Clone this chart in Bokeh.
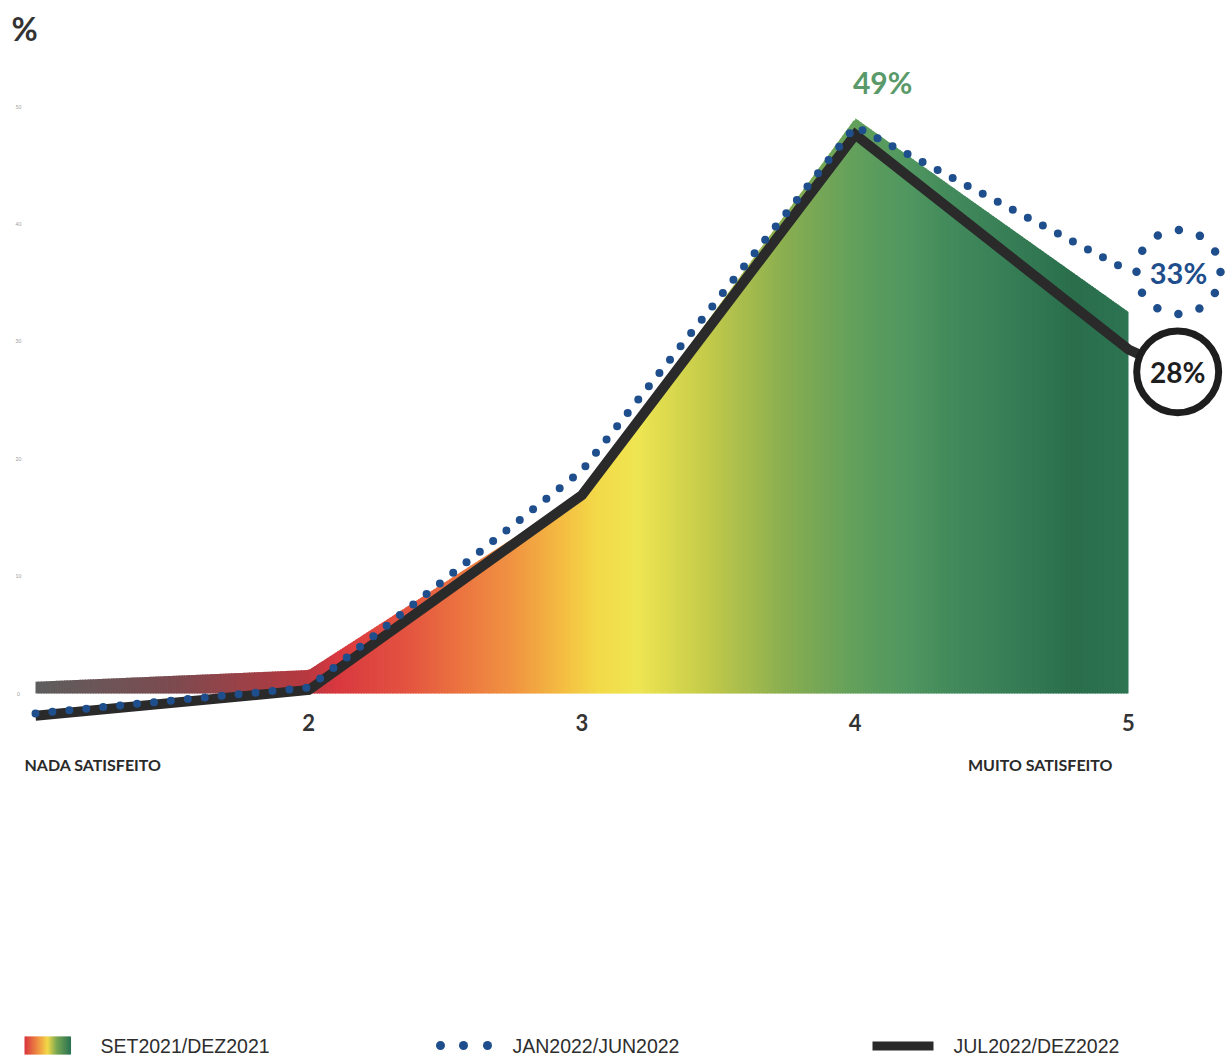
import numpy as np
from bokeh.plotting import figure
from bokeh.models import Range1d
from bokeh.core.properties import value
from bokeh.embed import file_html
from bokeh.resources import INLINE

# ---------------- data ----------------
categories = [1, 2, 3, 4, 5]
set2021_dez2021 = [1.0, 2.0, 17.0, 49.0, 32.5]
jan2022_jun2022 = [-1.7, 0.5, 19.0, 48.3, 36.0]
jul2022_dez2022 = [-1.9, 0.3, 16.9, 47.6, 29.3]

x_tick_values = [2, 3, 4, 5]
x_tick_labels = ["2", "3", "4", "5"]
y_tick_values = [0, 10, 20, 30, 40, 50]
y_tick_labels = ["0", "10", "20", "30", "40", "50"]
end_labels = ["NADA SATISFEITO", "MUITO SATISFEITO"]
peak_label = "49%"
jan_label = "33%"
jul_label = "28%"
series_names = ["SET2021/DEZ2021", "JAN2022/JUN2022", "JUL2022/DEZ2022"]

# ---------------- geometry / style ----------------
W, H = 1228, 1058
PX_X = 273.25   # pixels per category step
PX_Y = 11.74    # pixels per percentage point
X1 = 35         # px of category 1
Y0 = 693        # px of 0 %


def dx(px):
    return 1 + (px - X1) / PX_X


def dy(py):
    return (Y0 - py) / PX_Y


BLUE = "#1f4e8c"
BLACK = "#2a2a2a"
GREEN_TXT = "#5a9a6a"
TXT = "#2e2e2e"
FONT = "Lato"
LEG_FONT = "'Liberation Sans Narrow', 'Liberation Sans'"

p = figure(width=W, height=H,
           x_range=Range1d(dx(0), dx(W)), y_range=Range1d(dy(H), dy(0)),
           output_backend="svg", toolbar_location=None,
           x_axis_type=None, y_axis_type=None, min_border=0,
           outline_line_color=None, background_fill_color="white",
           border_fill_color="white")


def hex_to_rgb(h):
    h = h.lstrip("#")
    return np.array([int(h[i:i + 2], 16) for i in (0, 2, 4)], dtype=float)


def color_at(t, stops_t, stops_c):
    rgb = [np.interp(t, stops_t, [hex_to_rgb(c)[k] for c in stops_c]) for k in range(3)]
    return "#%02x%02x%02x" % tuple(int(round(v)) for v in rgb)


# ---------------- gradient area (SET2021/DEZ2021) ----------------
area_stops_x = [1.0, 1.5, 2.0, 2.1, 2.35, 2.55, 2.75, 2.92, 3.05, 3.2, 3.45,
                3.75, 4.0, 4.2, 4.35, 4.6, 4.8, 5.0]
area_stops_c = ["#5e5e5e", "#7c4b50", "#b8383f", "#d8383f", "#e35240", "#eb7340",
                "#f09442", "#f4bb42", "#f3d948", "#efe552", "#c5cb4a", "#88ad50",
                "#62a05c", "#4f9660", "#438a5c", "#357c55", "#2a6e4c", "#2d7452"]
N = 420
edges = np.linspace(categories[0], categories[-1], N + 1)
eps = 0.004
xs, ys, cols = [], [], []
for i in range(N):
    a = edges[i]
    b = min(edges[i + 1] + eps, categories[-1])
    ta = np.interp(a, categories, set2021_dez2021)
    tb = np.interp(b, categories, set2021_dez2021)
    xs.append([a, b, b, a])
    ys.append([0, 0, tb, ta])
    cols.append(color_at((a + edges[i + 1]) / 2, area_stops_x, area_stops_c))
p.patches(xs=xs, ys=ys, fill_color=cols, line_color=None)

# ---------------- label anchors ----------------
jan_c = (categories[4] + 0.183, jan2022_jun2022[4] - 0.1)
jul_c = (categories[4] + 0.18, jul2022_dez2022[4] - 1.9)

# ---------------- lines ----------------
p.line(categories + [jul_c[0]], jul2022_dez2022 + [jul_c[1]], line_width=10,
       line_color=BLACK, line_join="miter")
p.line(categories, jan2022_jun2022, line_width=8, line_color=BLUE,
       line_dash="0 17", line_cap="round")

# ---------------- value labels ----------------
p.text(x=[categories[3] + 0.1], y=[set2021_dez2021[3] + 3.1], text=[peak_label],
       text_font=value(FONT), text_font_style="bold", text_font_size="30px",
       text_color=GREEN_TXT, text_align="center", text_baseline="middle")

p.scatter(x=[jan_c[0]], y=[jan_c[1]], size=84, marker="circle", fill_color=None,
          line_color=BLUE, line_width=8.5, line_dash="0 22", line_cap="round")
p.text(x=[jan_c[0]], y=[jan_c[1]], text=[jan_label], text_font=value(FONT),
       text_font_style="bold", text_font_size="29px", text_color=BLUE,
       text_align="center", text_baseline="middle")

p.scatter(x=[jul_c[0]], y=[jul_c[1]], size=82, marker="circle", fill_color="white",
          line_color="#1e1e1e", line_width=7)
p.text(x=[jul_c[0]], y=[jul_c[1]], text=[jul_label], text_font=value(FONT),
       text_font_style="bold", text_font_size="28px", text_color="#1e1e1e",
       text_align="center", text_baseline="middle")

# ---------------- axes texts ----------------
p.text(x=x_tick_values, y=[dy(722)] * len(x_tick_values), text=x_tick_labels,
       text_font=value(FONT), text_font_style="bold", text_font_size="22px",
       text_color="#333333", text_align="center", text_baseline="middle")
p.text(x=[dx(18)] * len(y_tick_values), y=y_tick_values, text=y_tick_labels,
       text_font=value(FONT), text_font_size="5px", text_color="#9a9a9a",
       text_align="center", text_baseline="middle")
p.text(x=[dx(24), dx(1112)], y=[dy(764)] * 2, text=end_labels,
       text_font=value(FONT), text_font_style="bold", text_font_size="16px",
       text_color="#2a2a2a", text_align=["left", "right"], text_baseline="middle")
p.text(x=[dx(11)], y=[dy(28)], text=["%"], text_font=value(FONT),
       text_font_style="bold", text_font_size="32px", text_color="#333333",
       text_align="left", text_baseline="middle")

# ---------------- legend ----------------
LEG_Y = 1045
sw_stops = [0.0, 0.3, 0.5, 0.7, 1.0]
sw_cols = ["#d8383f", "#f09442", "#f3d948", "#7aa852", "#2d7452"]
M = 46
sx = np.linspace(dx(24), dx(70), M + 1)
p.quad(left=sx[:-1], right=sx[1:] + 0.002, bottom=dy(LEG_Y + 9), top=dy(LEG_Y - 9),
       fill_color=[color_at(i / (M - 1), sw_stops, sw_cols) for i in range(M)],
       line_color=None)
p.scatter(x=[dx(440), dx(463), dx(487)], y=[dy(LEG_Y)] * 3, size=9, marker="circle",
          fill_color=BLUE, line_color=None)
p.quad(left=dx(872), right=dx(933), bottom=dy(LEG_Y + 5), top=dy(LEG_Y - 4),
       fill_color=BLACK, line_color=None)
p.text(x=[dx(100), dx(512), dx(953)], y=[dy(LEG_Y)] * 3, text=series_names,
       text_font=value(LEG_FONT), text_font_size="19.5px", text_color=TXT,
       text_align="left", text_baseline="middle")

open("out.html", "w").write(file_html(p, INLINE))
